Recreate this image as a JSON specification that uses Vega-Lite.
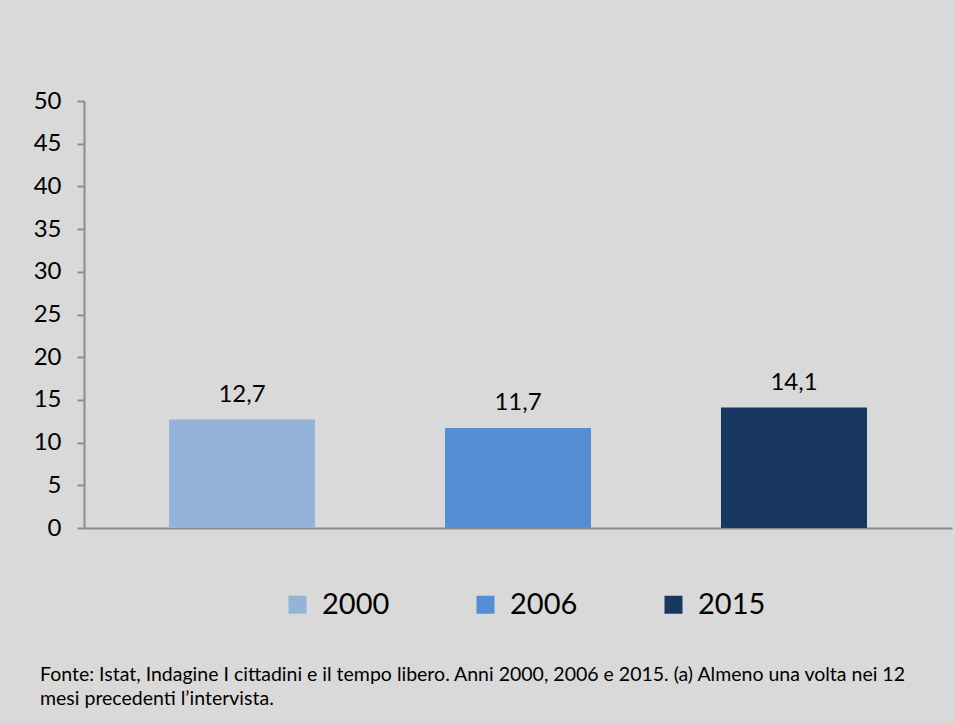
{
  "$schema": "https://vega.github.io/schema/vega-lite/v6.json",
  "autosize": {"type": "none"},
  "width": 868,
  "height": 427,
  "padding": {"left": 84, "top": 101, "right": 3, "bottom": 195},
  "background": "#d9d9d9",
  "data": {"values": [
    {"anno": "2000", "valore": 12.7},
    {"anno": "2006", "valore": 11.7},
    {"anno": "2015", "valore": 14.1}
  ]},
  "title": {
    "text": ["Fonte:  Istat, Indagine I cittadini e il tempo libero. Anni 2000, 2006 e 2015. (a) Almeno una volta nei 12", "mesi precedenti l’intervista."],
    "orient": "bottom",
    "anchor": "start",
    "frame": "group",
    "offset": 46,
    "dx": -44,
    "font": "Lato",
    "fontSize": 19.5,
    "fontWeight": "normal",
    "color": "#000000",
    "lineHeight": 24
  },
  "encoding": {
    "x": {
      "field": "anno", "type": "nominal", "sort": null,
      "scale": {"paddingInner": 0.471, "paddingOuter": 0.308},
      "axis": {"title": null, "labels": false, "ticks": false, "domainColor": "#8c8c8c", "domainWidth": 2}
    },
    "y": {
      "field": "valore", "type": "quantitative",
      "scale": {"domain": [0, 50], "nice": false},
      "axis": {"title": null, "values": [0,5,10,15,20,25,30,35,40,45,50], "grid": false, "format": "d",
        "domainColor": "#8c8c8c", "domainWidth": 2, "tickColor": "#8c8c8c", "tickWidth": 2, "tickSize": 7,
        "labelFont": "Lato", "labelFontSize": 24, "labelColor": "#000000", "labelPadding": 16}
    }
  },
  "layer": [
    {
      "mark": {"type": "bar"},
      "encoding": {
        "color": {
          "field": "anno", "type": "nominal", "sort": null,
          "scale": {"domain": ["2000", "2006", "2015"], "range": ["#95b3d7", "#558ed5", "#17375e"]},
          "legend": {
            "title": null, "orient": "none", "direction": "horizontal",
            "legendX": 199, "legendY": 489,
            "symbolType": "square", "symbolSize": 324, "symbolStrokeWidth": 0, "symbolOpacity": 1,
            "labelFont": "Lato", "labelFontSize": 29, "labelColor": "#000000", "labelOffset": 10,
            "columnPadding": 81
          }
        }
      }
    },
    {
      "mark": {"type": "text", "baseline": "bottom", "dy": -13, "font": "Lato", "fontSize": 24, "color": "#000000"},
      "encoding": {
        "text": {"field": "valore", "type": "quantitative", "format": ".1f"}
      }
    }
  ],
  "config": {
    "view": {"stroke": null},
    "locale": {"number": {"decimal": ",", "thousands": ".", "grouping": [3], "currency": ["", " €"]}}
  }
}
